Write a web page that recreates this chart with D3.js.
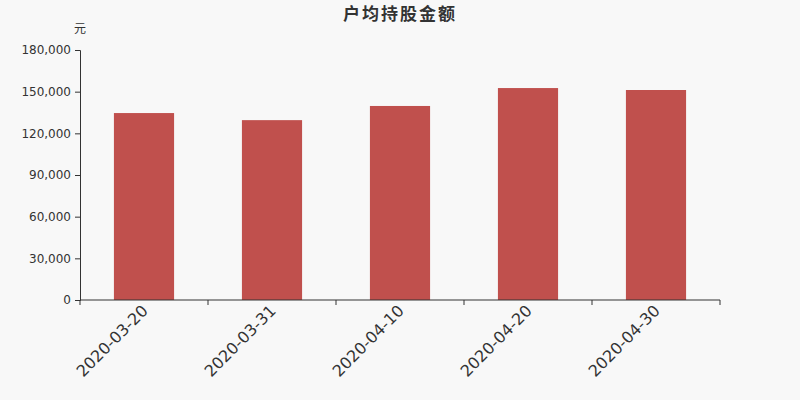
<!DOCTYPE html>
<html><head><meta charset="utf-8">
<script src="https://cdn.jsdelivr.net/npm/d3@7"></script>
<style>body{margin:0;background:#f8f8f8;}svg{display:block;font-family:"Noto Sans CJK SC","DejaVu Sans",sans-serif;}</style>
</head><body><svg id="c" width="800" height="400"></svg>
<script>
const categories = ["2020-03-20","2020-03-31","2020-04-10","2020-04-20","2020-04-30"];
const values = [134600, 129500, 139700, 152600, 151200];
const yTicks = [0,30000,60000,90000,120000,150000,180000];
const title = "户均持股金额";
const unit = "元";

const svg = d3.select("#c");
svg.append("rect").attr("width",800).attr("height",400).attr("fill","#f8f8f8");
const m = {l:80, r:80, t:50, b:100};
const x = d3.scaleBand().domain(categories).range([m.l, 800-m.r]).paddingInner(0.53).paddingOuter(0.265);
const y = d3.scaleLinear().domain([0,180000]).range([300,50]);

svg.append("text").attr("x",400).attr("y",20).attr("text-anchor","middle")
  .attr("font-size",17).attr("font-weight","bold").attr("letter-spacing",2).attr("fill","#333").text(title);
svg.append("text").attr("x",80).attr("y",33).attr("text-anchor","middle")
  .attr("font-size",12).attr("fill","#333").text(unit);

svg.selectAll("rect.bar").data(values).enter().append("rect").attr("class","bar")
  .attr("x",(d,i)=>x(categories[i])).attr("width",x.bandwidth())
  .attr("y",d=>y(d)).attr("height",d=>y(0)-y(d)).attr("fill","#c0504d");

const ya = svg.append("g").attr("transform","translate(80,0)")
  .call(d3.axisLeft(y).tickValues(yTicks).tickSize(5).tickPadding(4).tickFormat(d3.format(",")));
ya.selectAll("text").attr("font-size",12).attr("fill","#333").attr("font-family","DejaVu Sans");
ya.selectAll("line,path").attr("stroke","#333");

const xScaleTicks = d3.scaleLinear().domain([0,5]).range([80,720]);
const xa = svg.append("g").attr("transform","translate(0,300)");
xa.append("line").attr("x1",80).attr("x2",720).attr("stroke","#333");
xa.selectAll("line.t").data(d3.range(6)).enter().append("line").attr("class","t")
  .attr("x1",d=>xScaleTicks(d)).attr("x2",d=>xScaleTicks(d)).attr("y1",0).attr("y2",5).attr("stroke","#333");
xa.selectAll("text").data(categories).enter().append("text")
  .attr("transform",d=>`translate(${x(d)+x.bandwidth()/2-3},${4}) rotate(-45)`)
  .attr("text-anchor","end").attr("dy","0.7em").attr("font-size",16).attr("fill","#333")
  .attr("font-family","DejaVu Sans").text(d=>d);
</script></body></html>
